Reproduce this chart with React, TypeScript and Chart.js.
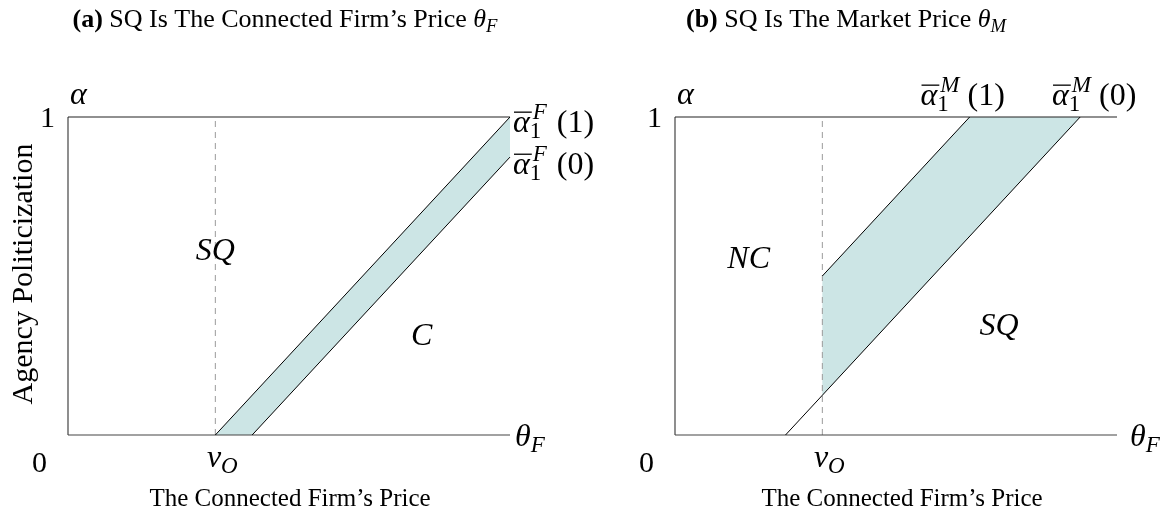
import React, { useEffect, useRef } from "react";
import { Chart, registerables } from "chart.js";

Chart.register(...registerables);

// ---------- data ----------
const X_MAX = 3; // theta_F axis range (0 .. X_MAX)
const Y_MAX = 1; // alpha range (0 .. 1)
const V_O = 1; // v_O position on theta_F axis

// Panel (a): SQ is the connected firm's price
const A_UPPER_X = [1, 3]; // alpha_1^F(1)
const A_UPPER_Y = [0, 1];
const A_LOWER_X = [1.25, 3]; // alpha_1^F(0)
const A_LOWER_Y = [0, 0.874];

// Panel (b): SQ is the market price
const B_UPPER_X = [1, 2]; // alpha_1^M(1)
const B_UPPER_Y = [0.5, 1];
const B_LOWER_X = [0.75, 2.75]; // alpha_1^M(0)
const B_LOWER_Y = [0, 1];
const B_LOWER_AT_VO = 0.125; // alpha_1^M(0) where it crosses v_O

const TITLES = ["SQ Is The Connected Firm\u2019s Price ", "SQ Is The Market Price "];
const X_TITLE = "The Connected Firm\u2019s Price";
const Y_TITLE = "Agency Politicization";

// ---------- rich text helper ----------
type Seg = {
  t?: string;
  it?: boolean;
  b?: boolean;
  s?: number; // relative size
  dy?: number; // relative baseline shift (em)
  over?: boolean;
  sup?: string;
  sub?: string;
  gap?: number; // extra px after
};
const FAM = '"Liberation Serif", "DejaVu Serif", serif';
function fnt(size: number, it?: boolean, b?: boolean) {
  return `${it ? "italic " : ""}${b ? "bold " : ""}${size}px ${FAM}`;
}
const SCR = 0.72;
function segW(ctx: CanvasRenderingContext2D, g: Seg, size: number) {
  if (g.sup !== undefined || g.sub !== undefined) {
    const ss = size * SCR;
    ctx.font = fnt(ss, true);
    const w1 = ctx.measureText(g.sup || "").width + 3;
    ctx.font = fnt(ss, false);
    const w2 = ctx.measureText(g.sub || "").width;
    return Math.max(w1, w2) + 4 + (g.gap || 0);
  }
  ctx.font = fnt(size * (g.s || 1), g.it, g.b);
  return ctx.measureText(g.t || "").width + (g.gap || 0);
}
function drawRich(
  ctx: CanvasRenderingContext2D,
  segs: Seg[],
  x: number,
  y: number,
  size: number,
  align: "left" | "center" | "right" = "left"
) {
  const ws = segs.map((g) => segW(ctx, g, size));
  const total = ws.reduce((a, b) => a + b, 0);
  let cx = align === "left" ? x : align === "center" ? x - total / 2 : x - total;
  ctx.save();
  ctx.fillStyle = "#000";
  ctx.textAlign = "left";
  ctx.textBaseline = "alphabetic";
  segs.forEach((g, i) => {
    if (g.sup !== undefined || g.sub !== undefined) {
      const ss = size * SCR;
      if (g.sup) {
        ctx.font = fnt(ss, true);
        ctx.fillText(g.sup, cx + 3, y - size * 0.4);
      }
      if (g.sub) {
        ctx.font = fnt(ss, false);
        ctx.fillText(g.sub, cx, y + size * 0.2);
      }
    } else {
      const sz = size * (g.s || 1);
      ctx.font = fnt(sz, g.it, g.b);
      ctx.fillText(g.t || "", cx, y + (g.dy || 0) * size);
      if (g.over) {
        ctx.strokeStyle = "#000";
        ctx.lineWidth = 1.3;
        ctx.beginPath();
        const oy = y - size * 0.62;
        ctx.moveTo(cx + 1, oy);
        ctx.lineTo(cx + ws[i] + 2, oy);
        ctx.stroke();
      }
    }
    cx += ws[i];
  });
  ctx.restore();
}

const sub = (t: string): Seg => ({ t, it: true, s: 0.72, dy: 0.2 });

// ---------- chart factory ----------
const pts = (xs: number[], ys: number[]) => xs.map((x, i) => ({ x, y: ys[i] }));

const FILL = "rgba(204,229,229,1)";
const LINE = "#000";
const AXIS = "#444";
const W = 1165;
const H = 521;

function makeConfig(panel: "a" | "b", pad: { left: number; right: number }) {
  const upper = panel === "a" ? pts(A_UPPER_X, A_UPPER_Y) : pts(B_UPPER_X, B_UPPER_Y);
  const lower = panel === "a" ? pts(A_LOWER_X, A_LOWER_Y) : pts(B_LOWER_X, B_LOWER_Y);
  const band =
    panel === "a"
      ? [...upper, ...lower.slice().reverse()]
      : [
          ...upper,
          { x: B_LOWER_X[1], y: B_LOWER_Y[1] },
          { x: V_O, y: B_LOWER_AT_VO },
        ];

  const common = { pointRadius: 0, tension: 0, clip: false as const, fill: false };
  const datasets: any[] = [
    { ...common, data: upper, borderColor: LINE, borderWidth: 1 },
    { ...common, data: lower, borderColor: LINE, borderWidth: 1 },
    {
      ...common,
      data: [
        { x: 0, y: Y_MAX },
        { x: X_MAX, y: Y_MAX },
      ],
      borderColor: "#222",
      borderWidth: 1.2,
    },
    {
      ...common,
      data: [
        { x: 0, y: 0 },
        { x: 0, y: Y_MAX },
      ],
      borderColor: AXIS,
      borderWidth: 1.2,
    },
    {
      ...common,
      data: [
        { x: 0, y: 0 },
        { x: X_MAX, y: 0 },
      ],
      borderColor: AXIS,
      borderWidth: 1.2,
    },
    {
      ...common,
      data: [
        { x: V_O, y: 0 },
        { x: V_O, y: Y_MAX },
      ],
      borderColor: "#9a9a9a",
      borderWidth: 1,
      borderDash: [6, 5],
    },
    {
      ...common,
      data: [...band, band[0]],
      borderWidth: 0,
      borderColor: "rgba(0,0,0,0)",
      backgroundColor: FILL,
      fill: "shape",
    },
  ];

  const textPlugin = {
    id: "txt" + panel,
    afterDraw(chart: any) {
      const ctx: CanvasRenderingContext2D = chart.ctx;
      const xs = chart.scales.x;
      const ys = chart.scales.y;
      const X = (v: number) => xs.getPixelForValue(v);
      const Y = (v: number) => ys.getPixelForValue(v);
      const L = X(0);
      const R = X(X_MAX);
      const B = Y(0);
      const T = Y(Y_MAX);
      const mid = (L + R) / 2;
      const S = 32;
      const D = 30;

      // title
      drawRich(
        ctx,
        [
          { t: panel === "a" ? "(a)" : "(b)", b: true },
          { t: " " + (panel === "a" ? TITLES[0] : TITLES[1]) },
          { t: "\u03b8", it: true },
          sub(panel === "a" ? "F" : "M"),
        ],
        panel === "a" ? mid - 4 : mid - 50,
        27,
        26,
        "center"
      );
      // x title
      drawRich(ctx, [{ t: X_TITLE }], panel === "a" ? mid + 1 : mid + 6, 506, 25, "center");
      // y title (panel a only)
      if (panel === "a") {
        ctx.save();
        ctx.translate(L - 36, (T + B) / 2 - 2);
        ctx.rotate(-Math.PI / 2);
        drawRich(ctx, [{ t: Y_TITLE }], 0, 0, 30, "center");
        ctx.restore();
      }
      // axis corner labels
      drawRich(ctx, [{ t: "1" }], L - 13, T + 10, D, "right");
      drawRich(ctx, [{ t: "\u03b1", it: true }], L + 2, T - 13, S, "left");
      drawRich(ctx, [{ t: "0" }], L - 21, B + 37, D, "right");
      drawRich(ctx, [{ t: "v", it: true }, sub("O")], X(V_O) + 7, B + 32, S, "center");
      drawRich(
        ctx,
        [{ t: "\u03b8", it: true }, sub("F")],
        panel === "a" ? R + 5 : R + 13,
        B + 11,
        S,
        "left"
      );

      if (panel === "a") {
        drawRich(ctx, [{ t: "SQ", it: true }], X(V_O), 260, S, "center");
        drawRich(ctx, [{ t: "C", it: true }], X(2.4), 345, S, "center");
        drawRich(
          ctx,
          [{ t: "\u03b1", it: true, over: true }, { sup: "F", sub: "1", gap: 6 }, { t: "(1)" }],
          R + 3,
          Y(A_UPPER_Y[1]) + 15,
          S,
          "left"
        );
        drawRich(
          ctx,
          [{ t: "\u03b1", it: true, over: true }, { sup: "F", sub: "1", gap: 6 }, { t: "(0)" }],
          R + 3,
          Y(A_LOWER_Y[1]) + 17,
          S,
          "left"
        );
      } else {
        drawRich(ctx, [{ t: "NC", it: true }], X(0.5), 268, S, "center");
        drawRich(ctx, [{ t: "SQ", it: true }], X(2.2), 335, S, "center");
        drawRich(
          ctx,
          [{ t: "\u03b1", it: true, over: true }, { sup: "M", sub: "1", gap: 4 }, { t: "(1)" }],
          X(B_UPPER_X[1]) - 7,
          T - 12,
          S,
          "center"
        );
        drawRich(
          ctx,
          [{ t: "\u03b1", it: true, over: true }, { sup: "M", sub: "1", gap: 4 }, { t: "(0)" }],
          X(B_LOWER_X[1]) + 14,
          T - 12,
          S,
          "center"
        );
      }
    },
  };

  return {
    type: "line" as const,
    data: { datasets },
    options: {
      animation: false as const,
      responsive: false,
      events: [] as any[],
      layout: { padding: { left: pad.left, right: pad.right, top: 117, bottom: H - 435 } },
      plugins: { legend: { display: false }, tooltip: { enabled: false }, title: { display: false } },
      scales: {
        x: { type: "linear" as const, min: 0, max: X_MAX, display: false },
        y: { type: "linear" as const, min: 0, max: Y_MAX, display: false },
      },
    },
    plugins: [textPlugin],
  };
}

function Panel({ panel, pad }: { panel: "a" | "b"; pad: { left: number; right: number } }) {
  const ref = useRef<HTMLCanvasElement>(null);
  useEffect(() => {
    if (!ref.current) return;
    const chart = new Chart(ref.current, makeConfig(panel, pad) as any);
    return () => chart.destroy();
  }, []);
  return (
    <canvas
      ref={ref}
      width={W}
      height={H}
      style={{ position: "absolute", left: 0, top: 0, width: W, height: H }}
    />
  );
}

export default function App() {
  return (
    <div style={{ position: "fixed", left: 0, top: 0, width: W, height: H, background: "#fff" }}>
      <Panel panel="a" pad={{ left: 68, right: W - 510 }} />
      <Panel panel="b" pad={{ left: 675, right: W - 1117 }} />
    </div>
  );
}
